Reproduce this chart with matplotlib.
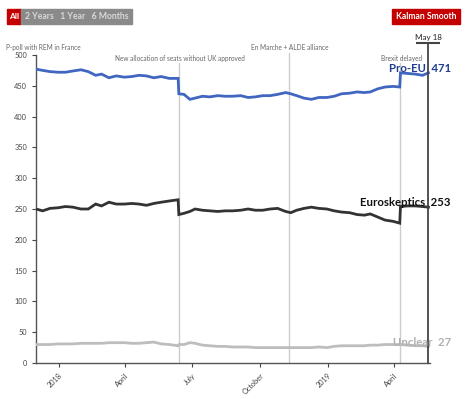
import numpy as np
import pandas as pd
import matplotlib
matplotlib.use("Agg")
import matplotlib.pyplot as plt
import matplotlib.dates as mdates
from matplotlib.patches import Rectangle

plt.rcParams['font.family'] = ['Lato', 'DejaVu Sans']

# poll dates (roughly every 10 days, plus the days around the jumps)
dates = pd.to_datetime([
    "2017-12-01", "2017-12-10", "2017-12-20", "2017-12-31", "2018-01-10", "2018-01-20",
    "2018-01-31", "2018-02-10", "2018-02-20", "2018-02-28", "2018-03-10", "2018-03-20",
    "2018-03-31", "2018-04-10", "2018-04-20", "2018-04-30", "2018-05-10", "2018-05-20",
    "2018-05-31", "2018-06-12", "2018-06-13", "2018-06-20", "2018-06-28", "2018-07-05",
    "2018-07-15", "2018-07-25", "2018-08-05", "2018-08-15", "2018-08-25", "2018-09-05",
    "2018-09-15", "2018-09-25", "2018-10-05", "2018-10-15", "2018-10-25", "2018-11-05",
    "2018-11-12", "2018-11-20", "2018-11-30", "2018-12-10", "2018-12-20", "2018-12-31",
    "2019-01-10", "2019-01-20", "2019-01-31", "2019-02-10", "2019-02-20", "2019-02-28",
    "2019-03-10", "2019-03-20", "2019-03-31", "2019-04-09", "2019-04-10", "2019-04-20",
    "2019-04-30", "2019-05-10", "2019-05-18",
])

pro_eu = [477, 475, 473, 472, 472, 474, 476, 473, 467, 469, 463, 466,
          464, 465, 467, 466, 463, 465, 462, 462, 437, 436, 428, 430,
          433, 432, 434, 433, 433, 434, 431, 432, 434, 434, 436, 439,
          437, 434, 430, 428, 431, 431, 433, 437, 438, 440, 439, 440,
          445, 448, 449, 448, 471, 470, 469, 467, 471]

euroskeptics = [250, 247, 251, 252, 254, 253, 250, 250, 258, 255, 261, 258,
                258, 259, 258, 256, 259, 261, 263, 265, 241, 243, 246, 250,
                248, 247, 246, 247, 247, 248, 250, 248, 248, 250, 251, 246,
                244, 248, 251, 253, 251, 250, 247, 245, 244, 241, 240, 242,
                237, 232, 230, 227, 254, 255, 255, 254, 253]

unclear = [30, 30, 30, 31, 31, 31, 32, 32, 32, 32, 33, 33,
           33, 32, 32, 33, 34, 31, 30, 28, 30, 30, 33, 32,
           29, 28, 27, 27, 26, 26, 26, 25, 25, 25, 25, 25,
           25, 25, 25, 25, 26, 25, 27, 28, 28, 28, 28, 29,
           29, 30, 30, 30, 30, 29, 28, 28, 27]

series_names = ["Pro-EU", "Euroskeptics", "Unclear"]
series_final = [471, 253, 27]

# events shown as vertical markers
event_dates = pd.to_datetime(["2017-12-01", "2018-06-13", "2018-11-09", "2019-04-10"])
event_labels = ["P-poll with REM in France", "New allocation of seats without UK approved",
                "En Marche + ALDE alliance", "Brexit delayed"]
today = pd.Timestamp("2019-05-18")

tick_dates = pd.to_datetime(["2018-01-01", "2018-04-01", "2018-07-01",
                             "2018-10-01", "2019-01-01", "2019-04-01"])
tick_labels = ["2018", "April", "July", "October", "2019", "April"]

fig = plt.figure(figsize=(4.74, 3.99), dpi=100)
ax = fig.add_axes([0.076, 0.0902, 0.831, 0.772])

line_cols = ["#4166c1", "#333333", "#bdbdbd"]
label_cols = ["#1f3d91", "#111111", "#b0b0b0"]
for vals, c in zip([unclear, euroskeptics, pro_eu], line_cols[::-1]):
    ax.plot(dates, vals, color=c, lw=2.0, solid_joinstyle='miter', zorder=3)

ax.set_xlim(pd.Timestamp("2017-12-01"), pd.Timestamp("2019-05-20"))
ax.set_ylim(0, 500)

xt = ax.get_xaxis_transform()
# event lines + labels
lbl_y = [1.0227, 0.990, 1.0227, 0.990]
for i, (d, lab) in enumerate(zip(event_dates, event_labels)):
    xd = mdates.date2num(d)
    if i > 0:
        ax.plot([xd, xd], [0, lbl_y[i] - 0.015], transform=xt, color="#cccccc",
                lw=1, clip_on=False, zorder=1)
    ax.annotate(lab, xy=(xd, lbl_y[i]), xycoords=xt, xytext=(5.5 if i == 0 else 1, 0),
                textcoords='offset points', ha='center', va='center',
                fontsize=4.7, color="#666666", annotation_clip=False)

# current date marker
xn = mdates.date2num(today)
ax.plot([xn, xn], [0, 1.04], transform=xt, color="#444444", lw=1.3,
        clip_on=False, zorder=4)
ax.plot([xn], [1.04], transform=xt, marker='_', markersize=17, mew=1.5,
        color="#444444", clip_on=False)
ax.annotate("May 18", xy=(xn, 1.056), xycoords=xt, ha='center', va='center',
            fontsize=5.8, color="#222222", annotation_clip=False)

# end labels
for name, val, vals, c in zip(series_names, series_final,
                              [pro_eu, euroskeptics, unclear], label_cols):
    ax.annotate(f"{name}  {val}", xy=(mdates.date2num(dates[-1]), vals[-1]), xytext=(16, 3),
                textcoords='offset points', ha='right', va='center',
                fontsize=8.2, fontweight='bold', color=c, zorder=5,
                annotation_clip=False)

ax.set_xticks(tick_dates)
ax.set_xticklabels(tick_labels, rotation=45, ha='right', rotation_mode='anchor')
ax.set_yticks(np.arange(0, 501, 50))
ax.tick_params(axis='both', labelsize=5.3, colors="#444444", length=3, width=0.8)
for s in ["top", "right"]:
    ax.spines[s].set_visible(False)
for s in ["left", "bottom"]:
    ax.spines[s].set_color("#555555")
    ax.spines[s].set_linewidth(1)

# range buttons on top
fig.patches.append(Rectangle((7 / 474, 1 - 24 / 399), 14 / 474, 15 / 399,
                             transform=fig.transFigure, color="#c40000"))
fig.patches.append(Rectangle((21 / 474, 1 - 24 / 399), 111 / 474, 15 / 399,
                             transform=fig.transFigure, color="#8a8a8a"))
fig.patches.append(Rectangle((392 / 474, 1 - 24 / 399), 68 / 474, 15 / 399,
                             transform=fig.transFigure, color="#c40000"))
fig.text(14 / 474, 1 - 16.5 / 399, "All", color="white", fontsize=6, fontweight='bold',
         ha='center', va='center')
fig.text(77 / 474, 1 - 16.5 / 399, "2 Years   1 Year   6 Months", color="#d9d9d9",
         fontsize=6.2, fontweight='bold', ha='center', va='center')
fig.text(426 / 474, 1 - 16.5 / 399, "Kalman Smooth", color="white", fontsize=6.2,
         fontweight='bold', ha='center', va='center')

fig.savefig("out.png", dpi=100)
